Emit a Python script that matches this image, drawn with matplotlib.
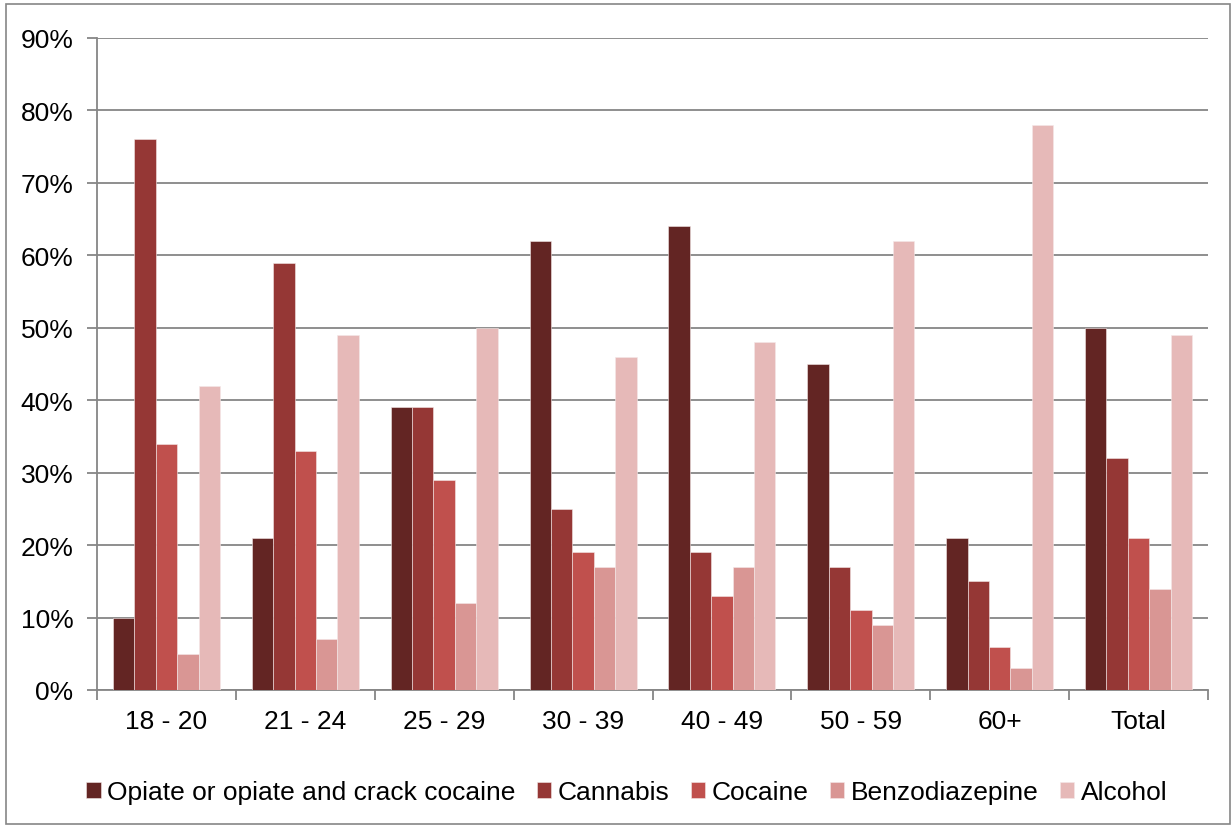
import matplotlib.pyplot as plt
import matplotlib.ticker as ticker
from matplotlib.patches import Rectangle
import numpy as np

plt.rcParams['font.family'] = ['Liberation Sans', 'DejaVu Sans']

groups = ['18 - 20', '21 - 24', '25 - 29', '30 - 39', '40 - 49', '50 - 59', '60+', 'Total']
series_names = ['Opiate or opiate and crack cocaine', 'Cannabis', 'Cocaine',
                'Benzodiazepine', 'Alcohol']
opiate = [10, 21, 39, 62, 64, 45, 21, 50]
cannabis = [76, 59, 39, 25, 19, 17, 15, 32]
cocaine = [34, 33, 29, 19, 13, 11, 6, 21]
benzo = [5, 7, 12, 17, 17, 9, 3, 14]
alcohol = [42, 49, 50, 46, 48, 62, 78, 49]
series_values = [opiate, cannabis, cocaine, benzo, alcohol]
series_colors = ['#632523', '#953735', '#C0504D', '#D99694', '#E6B9B8']

fig = plt.figure(figsize=(12.32, 8.28), dpi=100)
ax = fig.add_axes([97 / 1232, 1 - 691 / 828, (1208 - 97) / 1232, (691 - 39) / 828])

# outer chart border
fig.patches.append(Rectangle((6 / 1232, 3 / 828), 1 - 8 / 1232, 1 - 8 / 828,
                             transform=fig.transFigure, fill=False,
                             edgecolor='#868686', linewidth=1.2))

x = np.arange(len(groups))
bar_w = 0.154
for i, (name, vals, col) in enumerate(zip(series_names, series_values, series_colors)):
    offs = (i - 2) * bar_w
    ax.bar(x + offs, vals, width=bar_w, color=col, label=name,
           edgecolor='#f4e8e8', linewidth=0.4, zorder=3)

ax.set_xlim(-0.5, len(groups) - 0.5)
ax.set_ylim(0, 90)
ax.set_yticks(np.arange(0, 91, 10))
ax.yaxis.set_major_formatter(ticker.FuncFormatter(lambda v, p: f'{v:.0f}%'))
ax.yaxis.grid(True, color='#868686', linewidth=1.3, zorder=0)
ax.set_axisbelow(True)

ax.set_xticks(x)
ax.set_xticklabels(groups)
ax.set_xticks(np.arange(-0.5, len(groups)), minor=True)
ax.tick_params(axis='x', which='major', length=0, pad=14, labelsize=19)
ax.tick_params(axis='x', which='minor', length=7, color='#868686', width=1.3)
ax.tick_params(axis='y', length=7, color='#868686', width=1.3, labelsize=19, pad=10)

for s in ['top', 'right']:
    ax.spines[s].set_visible(False)
for s in ['left', 'bottom']:
    ax.spines[s].set_color('#868686')
    ax.spines[s].set_linewidth(1.3)

fig.legend(loc='center', bbox_to_anchor=(627 / 1232, 1 - 793 / 828), ncol=5,
           frameon=False, fontsize=19, handlelength=0.55, handleheight=0.55,
           handletextpad=0.25, columnspacing=0.8)

fig.savefig('out.png', dpi=100)
